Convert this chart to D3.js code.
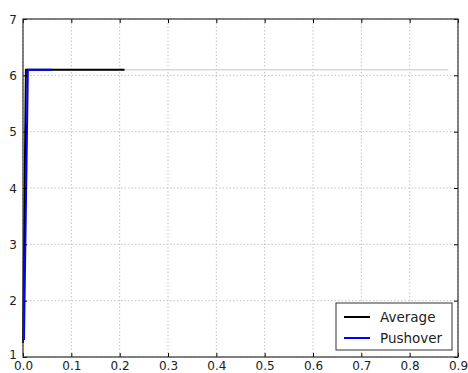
<!DOCTYPE html>
<html><head><meta charset="utf-8">
<script src="https://cdn.jsdelivr.net/npm/d3@7"></script>
<style>body{margin:0;background:#fff}svg{display:block;font-family:"DejaVu Sans",sans-serif}</style>
</head><body><svg id="c" width="468" height="373"></svg>
<script>
const xTicks = [0,0.1,0.2,0.3,0.4,0.5,0.6,0.7,0.8,0.9];
const yTicks = [1,2,3,4,5,6,7];
const grayX = [0, 0.01, 0.88];
const grayY = [1.3, 6.1, 6.1];
const yellowX = [0.001, 0.012, 0.05];
const yellowY = [1.3, 6.1, 6.1];
const averageX = [0, 0.006, 0.21];
const averageY = [1.25, 6.1, 6.1];
const pushoverX = [0.002, 0.01, 0.06];
const pushoverY = [1.3, 6.1, 6.1];
const seriesNames = ["Average", "Pushover"];
const seriesColors = ["#000000", "#0000ff"];

const svg = d3.select("#c");
const m = {l:23, r:10, t:19, b:16};
const W = 468, H = 373;
const x = d3.scaleLinear().domain([0,0.9]).range([m.l, W-m.r]);
const y = d3.scaleLinear().domain([1,7]).range([H-m.b, m.t]);

// grid
const g = svg.append("g");
g.selectAll(".gx").data(xTicks).join("line")
  .attr("x1", d=>x(d)).attr("x2", d=>x(d)).attr("y1", y(1)).attr("y2", y(7))
  .attr("stroke", "#b4b4b4").attr("stroke-width", 0.8).attr("stroke-dasharray", "1.5,2");
g.selectAll(".gy").data(yTicks).join("line")
  .attr("y1", d=>y(d)).attr("y2", d=>y(d)).attr("x1", x(0)).attr("x2", x(0.9))
  .attr("stroke", "#b4b4b4").attr("stroke-width", 0.8).attr("stroke-dasharray", "1.5,2");

const line = d3.line().x(d=>x(d[0])).y(d=>y(d[1]));
const zip = (a,b)=>a.map((v,i)=>[v,b[i]]);
svg.append("path").datum(zip(grayX,grayY)).attr("d", line).attr("fill","none")
  .attr("stroke","#d8d8d8").attr("stroke-width",1.5);
svg.append("path").datum(zip(yellowX,yellowY)).attr("d", line).attr("fill","none")
  .attr("stroke","#f4f0c0").attr("stroke-width",1.5);
svg.append("path").datum(zip(averageX,averageY)).attr("d", line).attr("fill","none")
  .attr("stroke",seriesColors[0]).attr("stroke-width",2);
svg.append("path").datum(zip(pushoverX,pushoverY)).attr("d", line).attr("fill","none")
  .attr("stroke",seriesColors[1]).attr("stroke-width",2);

// axes with inward ticks
const ax = d3.axisBottom(x).tickValues(xTicks).tickFormat(d3.format(".1f")).tickSizeInner(-4).tickSizeOuter(0).tickPadding(6);
const ay = d3.axisLeft(y).tickValues(yTicks).tickFormat(d3.format("d")).tickSizeInner(-4).tickSizeOuter(0).tickPadding(6);
const gx = svg.append("g").attr("transform", `translate(0,${y(1)})`).call(ax);
const gy = svg.append("g").attr("transform", `translate(${x(0)},0)`).call(ay);
const gx2 = svg.append("g").attr("transform", `translate(0,${y(7)})`).call(d3.axisTop(x).tickValues(xTicks).tickFormat("").tickSizeInner(-4).tickSizeOuter(0));
const gy2 = svg.append("g").attr("transform", `translate(${x(0.9)},0)`).call(d3.axisRight(y).tickValues(yTicks).tickFormat("").tickSizeInner(-4).tickSizeOuter(0));
[gx,gy,gx2,gy2].forEach(a=>{a.select(".domain").remove(); a.selectAll("text").attr("font-size",12).attr("fill","#222").attr("font-family","DejaVu Sans");});
gx.selectAll("text").attr("dy","0.55em");
gy.selectAll("text").attr("dy","0.35em");
gy.selectAll("text").filter(d=>d===1).attr("dy","0.1em");
svg.append("rect").attr("x",x(0)).attr("y",y(7)).attr("width",x(0.9)-x(0)).attr("height",y(1)-y(7))
  .attr("fill","none").attr("stroke","#333").attr("stroke-width",1.2);

// legend
const lg = svg.append("g");
lg.append("rect").attr("x",336).attr("y",303).attr("width",116).attr("height",47)
  .attr("fill","#fff").attr("stroke","#333").attr("stroke-width",1);
seriesNames.forEach((n,i)=>{
  const yy = 317 + i*21;
  lg.append("line").attr("x1",344).attr("x2",370).attr("y1",yy).attr("y2",yy)
    .attr("stroke",seriesColors[i]).attr("stroke-width",2);
  lg.append("text").attr("x",380).attr("y",yy).attr("dy","0.35em").attr("font-size",13.5)
    .attr("fill","#222").text(n);
});
</script></body></html>
